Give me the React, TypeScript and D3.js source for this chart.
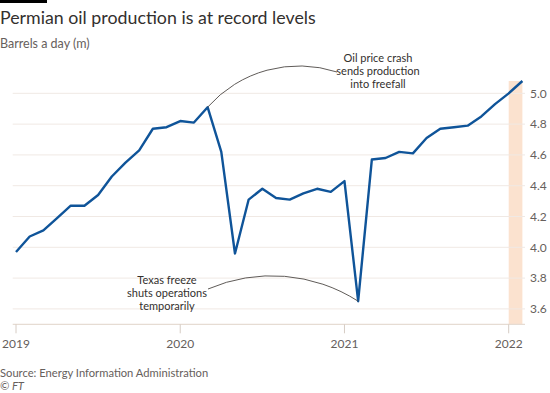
import React from "react";
import { scaleLinear, line, curveLinear } from "d3";

// monthly Permian output, Jan 2019 - Feb 2022 (m barrels a day)
const months = [
  "2019-01", "2019-02", "2019-03", "2019-04", "2019-05", "2019-06",
  "2019-07", "2019-08", "2019-09", "2019-10", "2019-11", "2019-12",
  "2020-01", "2020-02", "2020-03", "2020-04", "2020-05", "2020-06",
  "2020-07", "2020-08", "2020-09", "2020-10", "2020-11", "2020-12",
  "2021-01", "2021-02", "2021-03", "2021-04", "2021-05", "2021-06",
  "2021-07", "2021-08", "2021-09", "2021-10", "2021-11", "2021-12",
  "2022-01", "2022-02",
];
const production = [
  3.97, 4.07, 4.11, 4.19, 4.27, 4.27, 4.34, 4.46, 4.55, 4.63, 4.77, 4.78,
  4.82, 4.81, 4.91, 4.62, 3.96, 4.31, 4.38, 4.32, 4.31, 4.35, 4.38, 4.36,
  4.43, 3.65, 4.57, 4.58, 4.62, 4.61, 4.71, 4.77, 4.78, 4.79, 4.85, 4.93,
  5.0, 5.08,
];
const yearTicks = ["2019", "2020", "2021", "2022"];
const yTicks = [3.6, 3.8, 4.0, 4.2, 4.4, 4.6, 4.8, 5.0];
// forecast months that get the shaded band
const shadedMonths = ["2022-01", "2022-02"];

const width = 550;
const height = 393;
const font = "Lato, sans-serif";
const textColor = "#66605c";
const darkText = "#33302e";

export default function App() {
  const x = scaleLinear().domain([0, 36]).range([16, 508.7]);
  const y = scaleLinear().domain([3.5, 5.08]).range([324.3, 81]);
  const idx = (m: string) => months.indexOf(m);

  const path = line<number>()
    .x((_, i) => x(i))
    .y((d) => y(d))
    .curve(curveLinear)(production);

  const crashI = idx("2020-03");
  const freezeI = idx("2021-02");
  const shadeX0 = x(idx(shadedMonths[0]));
  const shadeX1 = x(idx(shadedMonths[shadedMonths.length - 1]));

  return (
    <svg
      width={width}
      height={height}
      style={{ position: "absolute", left: 0, top: 0, background: "#fff" }}
      fontFamily={font}
    >
      <rect x={0} y={0} width={47} height={3} fill="#000" />
      <text x={0} y={24} fontSize={17.8} fill={darkText}>
        Permian oil production is at record levels
      </text>
      <text x={0} y={48} fontSize={12.5} fill={textColor}>
        Barrels a day (m)
      </text>

      <rect
        x={shadeX0}
        y={y(5.08)}
        width={shadeX1 - shadeX0}
        height={y(3.5) - y(5.08)}
        fill="#fbe2cf"
      />

      {yTicks.map((t) => (
        <g key={t}>
          <line x1={12.7} x2={525} y1={y(t)} y2={y(t)} stroke="#f0e9e4" strokeWidth={1} />
          <text x={530} y={y(t)} dy="0.35em" fontSize={12} fill={textColor}>
            {t.toFixed(1)}
          </text>
        </g>
      ))}
      <line x1={12.7} x2={525} y1={y(3.5)} y2={y(3.5)} stroke="#e6dcd3" strokeWidth={1.2} />

      {yearTicks.map((yr) => {
        const px = x(idx(`${yr}-01`));
        return (
          <g key={yr}>
            <line x1={px} x2={px} y1={y(3.5)} y2={y(3.5) + 9} stroke="#d6ccc4" />
            <text x={px} y={348} textAnchor="middle" fontSize={12} fill={textColor}>
              {yr}
            </text>
          </g>
        );
      })}

      <path d={path ?? ""} fill="none" stroke="#0f5499" strokeWidth={2.4} strokeLinejoin="round" />

      {/* annotation: oil price crash */}
      <path
        d={`M${x(crashI)},${y(production[crashI])} A122,122 0 0 1 337,72`}
        fill="none"
        stroke="#4d4845"
        strokeWidth={0.9}
      />
      <text textAnchor="middle" fontSize={11} fill={darkText}>
        <tspan x={378} y={62}>Oil price crash</tspan>
        <tspan x={378} y={75.2}>sends production</tspan>
        <tspan x={378} y={88.4}>into freefall</tspan>
      </text>

      {/* annotation: Texas freeze */}
      <path
        d={`M208,289 A160,160 0 0 1 ${x(freezeI)},${y(production[freezeI])}`}
        fill="none"
        stroke="#4d4845"
        strokeWidth={0.9}
      />
      <text textAnchor="middle" fontSize={11} fill={darkText}>
        <tspan x={167} y={283.5}>Texas freeze</tspan>
        <tspan x={167} y={296.7}>shuts operations</tspan>
        <tspan x={167} y={309.9}>temporarily</tspan>
      </text>

      <text x={0} y={377} fontSize={11.2} fill={textColor}>
        Source: Energy Information Administration
      </text>
      <text x={0} y={390} fontSize={11.2} fill={textColor} fontStyle="italic">
        © FT
      </text>
    </svg>
  );
}
